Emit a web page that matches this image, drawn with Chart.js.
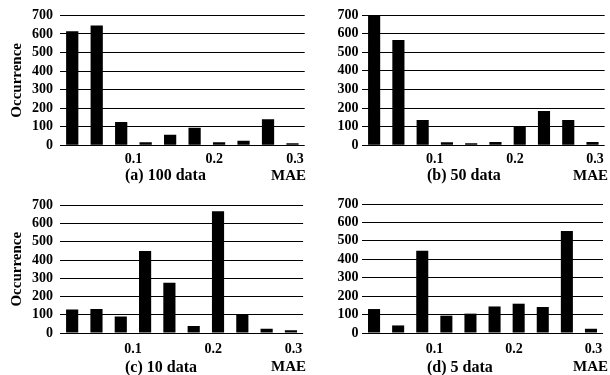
<!DOCTYPE html>
<html><head><meta charset="utf-8">
<script src="https://cdn.jsdelivr.net/npm/chart.js@4"></script>
<style>
html,body{margin:0;padding:0;background:#fff;width:610px;height:375px;overflow:hidden;}
canvas{position:absolute;}
</style></head><body>
<canvas id="pa" width="310" height="190" style="left:0px;top:0px"></canvas>
<canvas id="pb" width="308" height="190" style="left:302px;top:0px"></canvas>
<canvas id="pc" width="310" height="185" style="left:0px;top:190px"></canvas>
<canvas id="pd" width="308" height="185" style="left:302px;top:190px"></canvas>
<script>
// ---- data ----
const bins = ['0.03','0.06','0.09','0.12','0.15','0.18','0.21','0.24','0.27','0.30'];
const occ100 = [615, 645, 125, 17, 57, 95, 17, 25, 140, 11];
const occ50  = [705, 566, 136, 16, 11, 18, 100, 184, 136, 18];
const occ10  = [129, 132, 91, 450, 276, 38, 668, 102, 24, 15];
const occ5   = [130, 41, 446, 94, 105, 144, 159, 141, 554, 23];
const xTickValues = [0.1, 0.2, 0.3];
const yMax = 700, yStep = 100;
const panelTitles = ['(a) 100 data', '(b) 50 data', '(c) 10 data', '(d) 5 data'];
const xTitle = 'MAE';
const yTitle = 'Occurrence';

const FONT = '"Liberation Serif", "Times New Roman", serif';

function makePanel(id, values, title, cfg) {
  const labelPlugin = {
    id: 'subLabels',
    afterDraw(chart) {
      const {ctx, chartArea} = chart;
      ctx.save();
      ctx.fillStyle = '#000';
      ctx.textBaseline = 'middle';
      ctx.textAlign = 'left';
      ctx.font = 'bold 16px ' + FONT;
      ctx.fillText(title, chartArea.left + 65, chartArea.bottom + cfg.subOff);
      ctx.font = 'bold 15px ' + FONT;
      ctx.fillText(xTitle, chartArea.left + 211, chartArea.bottom + cfg.subOff);
      ctx.restore();
    }
  };
  new Chart(document.getElementById(id), {
    type: 'bar',
    data: {
      labels: bins,
      datasets: [{
        data: values,
        backgroundColor: '#000',
        borderWidth: 0,
        categoryPercentage: 1,
        barPercentage: 0.5,
        xAxisID: 'x',
        yAxisID: 'y'
      }]
    },
    options: {
      responsive: false,
      devicePixelRatio: 1,
      animation: false,
      layout: {padding: {left: 0, right: cfg.padRight, top: cfg.padTop, bottom: 0}},
      plugins: {legend: {display: false}, tooltip: {enabled: false}},
      scales: {
        x: {type: 'category', display: false},
        x2: {
          type: 'linear', position: 'bottom',
          offset: false,
          beginAtZero: false,
          min: 0.009, max: 0.312,
          afterBuildTicks: s => { s.ticks = xTickValues.map(v => ({value: v})); },
          afterFit: s => { s.height = cfg.xHeight; },
          grid: {display: false, drawTicks: false, offset: false},
          border: {display: false},
          ticks: {
            padding: cfg.xTickPad,
            color: '#000',
            autoSkip: false,
            font: {family: FONT, size: 14, weight: 'bold'},
            maxRotation: 0,
            callback: v => v.toFixed(1)
          }
        },
        y: {
          min: 0, max: yMax,
          afterFit: s => { s.width = 60; },
          grid: {color: '#000', lineWidth: 1, drawTicks: false},
          border: {display: false},
          ticks: {
            stepSize: yStep,
            autoSkip: false,
            padding: cfg.yTickPad,
            color: '#000',
            font: {family: FONT, size: 14, weight: 'bold'}
          },
          title: {
            display: cfg.showYTitle,
            text: yTitle,
            color: '#000',
            font: {family: FONT, size: 15, weight: 'bold'},
            padding: {top: 8, bottom: 0}
          }
        }
      }
    },
    plugins: [labelPlugin]
  });
}

makePanel('pa', occ100, panelTitles[0], {padTop: 15, padRight: 3, xHeight: 44.7, xTickPad: 6, yTickPad: 7, showYTitle: true, subOff: 30.5});
makePanel('pb', occ50, panelTitles[1], {padTop: 15, padRight: 2, xHeight: 44.7, xTickPad: 6, yTickPad: 3.5, showYTitle: false, subOff: 30.5});
makePanel('pc', occ10, panelTitles[2], {padTop: 14, padRight: 3, xHeight: 42, xTickPad: 7.5, yTickPad: 7, showYTitle: true, subOff: 34.5});
makePanel('pd', occ5, panelTitles[3], {padTop: 14, padRight: 2, xHeight: 42, xTickPad: 7.5, yTickPad: 3.5, showYTitle: false, subOff: 34.5});
</script>
</body></html>
